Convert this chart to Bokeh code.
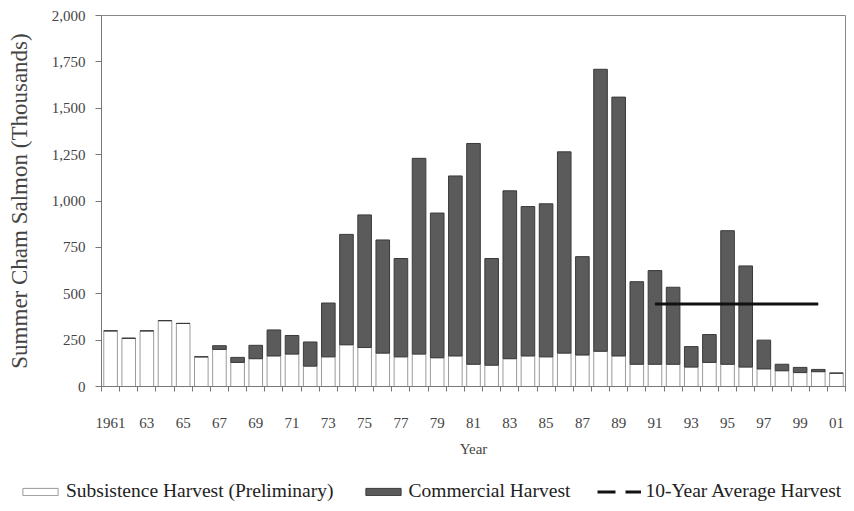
from bokeh.plotting import figure
from bokeh.models import (ColumnDataSource, Range1d, FixedTicker, NumeralTickFormatter,
                          Legend, LegendItem)
from bokeh.embed import file_html
from bokeh.resources import INLINE

# ---- data (thousands of fish) ----
years = list(range(1961, 2002))
subsistence = [300, 260, 300, 355, 340, 160, 200, 130, 150, 165,
               175, 110, 160, 225, 210, 180, 160, 175, 155, 165,
               120, 115, 150, 165, 160, 180, 170, 190, 165, 120,
               120, 120, 105, 130, 120, 105, 95, 85, 75, 80,
               72]
commercial = [0, 0, 0, 0, 0, 0, 20, 27, 72, 140,
              100, 130, 290, 595, 715, 610, 530, 1055, 780, 970,
              1190, 575, 905, 805, 825, 1085, 530, 1520, 1395, 445,
              505, 415, 110, 150, 720, 545, 155, 35, 28, 12,
              0]
avg_start, avg_end, avg_value = 1991, 2000, 445
tick_years = list(range(1961, 2002, 2))
tick_labels = ["1961", "63", "65", "67", "69", "71", "73", "75", "77", "79", "81",
               "83", "85", "87", "89", "91", "93", "95", "97", "99", "01"]
boundaries = [y - 0.5 for y in years] + [years[-1] + 0.5]
y_ticks = list(range(0, 2001, 250))

FONT = "Liberation Serif"
SUB_FILL, SUB_LINE = "white", "#9a9a9a"
COM_FILL, COM_LINE = "#5b5b5b", "#3a3a3a"
AVG_COLOR = "#111111"

source = ColumnDataSource(dict(year=years, subs=subsistence, comm=commercial))

p = figure(width=846, height=470, output_backend="svg", toolbar_location=None,
           x_range=Range1d(1960.5, 2001.5), y_range=Range1d(0, 2000),
           min_border_left=101, min_border_right=1, min_border_top=15,
           min_border_bottom=84)
p.background_fill_color = "white"
p.border_fill_color = "white"
p.outline_line_color = "#888888"
p.xgrid.visible = False
p.ygrid.visible = False

p.vbar_stack(["subs", "comm"], x="year", width=0.75, source=source,
             fill_color=[SUB_FILL, COM_FILL], line_color=[SUB_LINE, COM_LINE],
             line_width=1)

p.line(x=[avg_start, avg_end], y=[avg_value, avg_value], line_color=AVG_COLOR,
       line_width=3)

# y axis
ya = p.yaxis[0]
ya.ticker = FixedTicker(ticks=y_ticks)
ya.formatter = NumeralTickFormatter(format="0,0")
ya.axis_label = "Summer Cham Salmon (Thousands)"
ya.axis_label_text_font = FONT
ya.axis_label_text_font_style = "normal"
ya.axis_label_text_font_size = "23px"
ya.axis_label_standoff = 17
ya.major_label_text_font = FONT
ya.major_label_text_font_size = "15px"
ya.major_label_standoff = 10
ya.major_tick_out = 6
ya.major_tick_in = 0
ya.minor_tick_out = 0
ya.minor_tick_in = 0
ya.axis_line_color = "#777777"
ya.major_tick_line_color = "#777777"

# x axis
xa = p.xaxis[0]
xa.ticker = FixedTicker(ticks=tick_years, minor_ticks=boundaries)
xa.major_label_overrides = {y: lab for y, lab in zip(tick_years, tick_labels)}
xa.axis_label = "Year"
xa.axis_label_text_font = FONT
xa.axis_label_text_font_style = "normal"
xa.axis_label_text_font_size = "15px"
xa.axis_label_standoff = 10
xa.major_label_text_font = FONT
xa.major_label_text_font_size = "15px"
xa.major_label_standoff = 26
xa.major_tick_out = 0
xa.major_tick_in = 0
xa.minor_tick_out = 5
xa.minor_tick_in = 0
xa.axis_line_color = "#777777"
xa.minor_tick_line_color = "#777777"

# ---- legend strip below the chart ----
lf = figure(width=846, height=32, output_backend="svg", toolbar_location=None,
            min_border=0, x_range=Range1d(0, 1), y_range=Range1d(0, 1),
            x_axis_location=None, y_axis_location=None)
lf.xgrid.visible = False
lf.ygrid.visible = False
lf.outline_line_color = None
lf.background_fill_color = "white"
lf.border_fill_color = "white"

# placeholder glyphs outside the visible range, used only for the legend swatches
r_sub = lf.vbar(x=[5], top=[5], width=0.1, fill_color=SUB_FILL, line_color=SUB_LINE)
r_com = lf.vbar(x=[5], top=[5], width=0.1, fill_color=COM_FILL, line_color=COM_LINE)
r_avg = lf.line(x=[5, 6], y=[5, 5], line_color=AVG_COLOR, line_width=3, line_dash="18 10")

legend = Legend(items=[LegendItem(label="Subsistence Harvest (Preliminary)", renderers=[r_sub]),
                       LegendItem(label="Commercial Harvest", renderers=[r_com]),
                       LegendItem(label="10-Year Average Harvest", renderers=[r_avg])],
                location=(18, 0), orientation="horizontal",
                label_text_font=FONT, label_text_font_size="19.5px",
                label_text_color="#222222",
                glyph_width=44, glyph_height=9, label_height=22,
                label_standoff=4, padding=0, margin=0, spacing=27,
                border_line_color=None, background_fill_alpha=0)
lf.add_layout(legend, "center")

open("out.html", "w").write(file_html([p, lf], INLINE))
